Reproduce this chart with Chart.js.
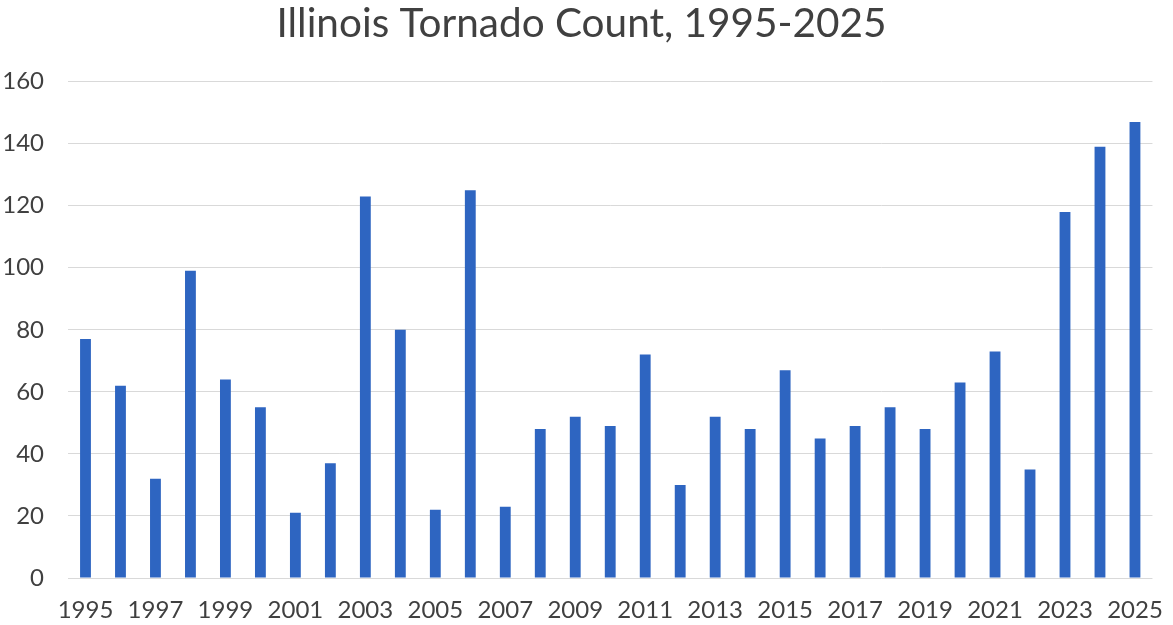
<!DOCTYPE html>
<html>
<head>
<meta charset="utf-8">
<title>Illinois Tornado Count, 1995-2025</title>
<script src="https://cdn.jsdelivr.net/npm/chart.js@4/dist/chart.umd.min.js"></script>
<style>
  html, body { margin: 0; padding: 0; background: #fff; }
  #wrap { width: 1173px; height: 625px; }
</style>
</head>
<body>
<div id="wrap"><canvas id="tornado-chart"></canvas></div>
<script>
'use strict';

// years on the x axis
const years = [
    '1995', '1996', '1997', '1998', '1999', '2000', '2001', '2002',
    '2003', '2004', '2005', '2006', '2007', '2008', '2009', '2010',
    '2011', '2012', '2013', '2014', '2015', '2016', '2017', '2018',
    '2019', '2020', '2021', '2022', '2023', '2024', '2025'];

// tornado count per year
const tornadoCount = [
    77, 62, 32, 99, 64, 55, 21, 37,
    123, 80, 22, 125, 23, 48, 52, 49,
    72, 30, 52, 48, 67, 45, 49, 55,
    48, 63, 73, 35, 118, 139, 147];

// y axis range
const yMin = 0;
const yMax = 160;
const yStep = 20;

const textColor = '#404040';
const fontFamily = 'Lato, "Open Sans", sans-serif';

new Chart(document.getElementById('tornado-chart'), {
    type: 'bar',
    data: {
        labels: years,
        datasets: [
            {
                label: 'Tornadoes',
                data: tornadoCount,
                backgroundColor: '#2E65C1',
                borderWidth: 0,
                categoryPercentage: 1,
                barPercentage: 0.31
            }
        ]
    },
    options: {
        responsive: true,
        maintainAspectRatio: false,
        animation: false,
        layout: {
            padding: { left: 2, right: 12, top: 0, bottom: 0 }
        },
        plugins: {
            legend: { display: false },
            tooltip: { enabled: false },
            title: {
                display: true,
                text: 'Illinois Tornado Count, 1995-2025',
                color: textColor,
                font: { family: fontFamily, size: 40.5, weight: 'normal' },
                padding: { top: 0, bottom: 33 }
            }
        },
        scales: {
            x: {
                grid: { display: false },
                border: { display: false },
                afterFit: function (scale) { scale.height = 47; },
                ticks: {
                    autoSkip: false,
                    maxRotation: 0,
                    color: textColor,
                    padding: 10,
                    font: { family: fontFamily, size: 24 },
                    // only every other year is labelled
                    callback: function (value, index) {
                        return index % 2 === 0 ? this.getLabelForValue(value) : '';
                    }
                }
            },
            y: {
                min: yMin,
                max: yMax,
                grid: { color: '#d9d9d9', lineWidth: 1, drawTicks: false },
                border: { display: false },
                afterFit: function (scale) { scale.width = 66; },
                ticks: {
                    stepSize: yStep,
                    color: textColor,
                    padding: 24,
                    font: { family: fontFamily, size: 24 }
                }
            }
        }
    }
});
</script>
</body>
</html>
